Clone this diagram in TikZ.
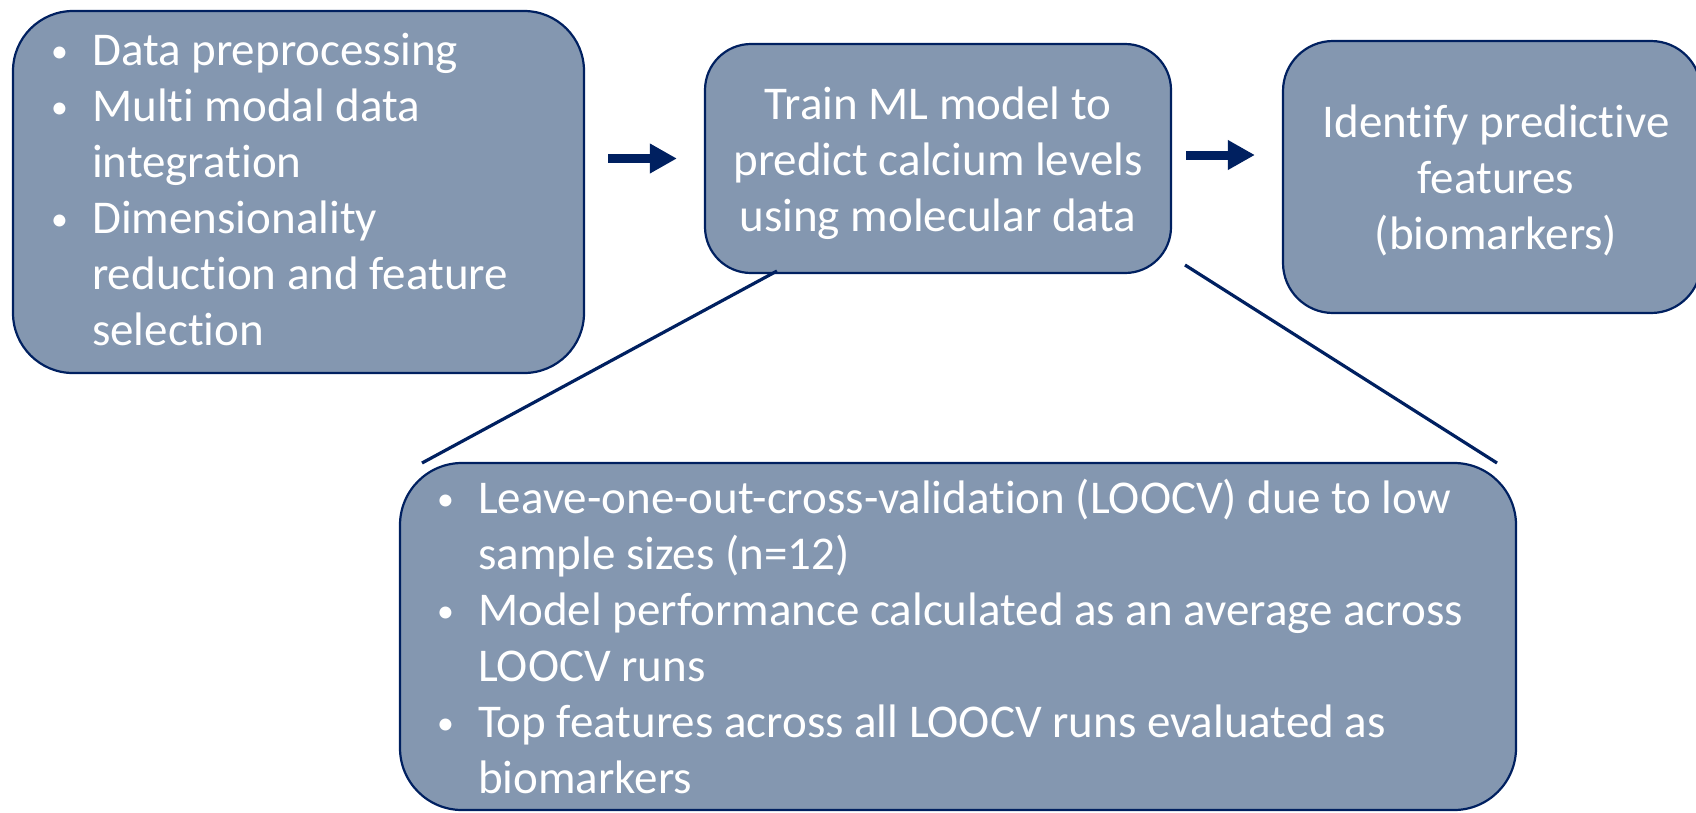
\documentclass[tikz,border=0pt]{standalone}
\usepackage{fontspec}
\setmainfont{Carlito}[Ligatures={NoCommon}]
\usetikzlibrary{arrows.meta}
\definecolor{boxfill}{HTML}{8497B0}
\definecolor{navy}{HTML}{002060}
\tikzset{
  stagebox/.style={draw=navy, line width=2.2pt, fill=boxfill, inner sep=0pt},
  flow/.style={draw=navy, line width=9pt, -{Triangle[length=27pt,width=28pt]}},
  zoomline/.style={draw=navy, line width=3.2pt},
  boxtext/.style={text=white, inner sep=0pt, font=\fontsize{47}{56}\selectfont}
}
% bullet set in a fixed-width slot, continuation lines indented by the same width
\newcommand\bulletbox[1]{\makebox[#1][l]{\hspace{5pt}\raisebox{0.12ex}{\scalebox{0.72}{\textbullet}}}}
\newcommand\contline[1]{\par\leavevmode\hspace*{#1}}
\begin{document}
\begin{tikzpicture}[x=1pt,y=-1pt]
\useasboundingbox (0,0) rectangle (1696,812);

% stage boxes
\node[stagebox, rounded corners=60pt, minimum width=571pt, minimum height=362pt] (prep) at (298.5,192) {};
\node[stagebox, rounded corners=46pt, minimum width=466pt, minimum height=229pt] (train) at (938,158.5) {};
\node[stagebox, rounded corners=50pt, minimum width=418pt, minimum height=272pt] (ident) at (1492,177) {};
\node[stagebox, rounded corners=62pt, minimum width=1116pt, minimum height=347pt] (loocv) at (958,636.5) {};

% box texts
\node[boxtext, anchor=base west] (preptext) at (46,65) {\parbox[t]{530pt}{\raggedright\parindent=0pt
  \bulletbox{46pt}Data preprocessing
  \par\bulletbox{46pt}Multi modal data\contline{46pt}integration
  \par\bulletbox{46pt}Dimensionality\contline{46pt}reduction and feature\contline{46pt}selection\par}};

\node[boxtext, anchor=base] (traintext) at (938,119) {\parbox[t]{460pt}{\centering
  Train ML model to\\predict calcium levels\\using molecular data\par}};

\node[boxtext, anchor=base] (identtext) at (1496,137) {\parbox[t]{410pt}{\centering
  Identify predictive\\features\\(biomarkers)\par}};

\node[boxtext, anchor=base west] (loocvtext) at (432,513) {\parbox[t]{1080pt}{\raggedright\parindent=0pt
  \bulletbox{46pt}Leave-one-out-cross-validation (LOOCV) due to low\contline{46pt}sample sizes (n=12)
  \par\bulletbox{46pt}Model performance calculated as an average across\contline{46pt}LOOCV runs
  \par\bulletbox{46pt}Top features across all LOOCV runs evaluated as\contline{46pt}biomarkers\par}};

% flow arrows
\draw[flow, shorten <=23pt, shorten >=27pt] (prep.east |- train.west) -- (train.west);
\draw[flow, shorten <=14pt, shorten >=27pt] ([yshift=3.5pt]train.east) -- ([yshift=3.5pt]train.east -| ident.west);

% lines opening the training step into its detail box
\coordinate (zoomLtop) at (777,271);
\coordinate (zoomLbot) at (422,463);
\coordinate (zoomRtop) at (1185,265);
\coordinate (zoomRbot) at (1497,463);
\draw[zoomline] (zoomLtop) -- (zoomLbot);
\draw[zoomline] (zoomRtop) -- (zoomRbot);
\end{tikzpicture}
\end{document}
